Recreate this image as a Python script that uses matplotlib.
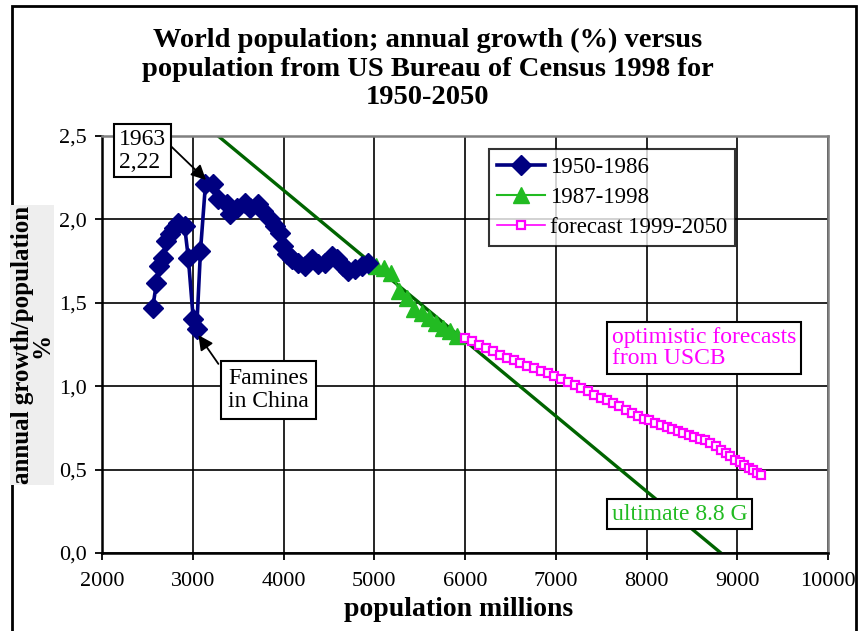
"""
World population: annual growth (%) versus population, USCB 1998, 1950-2050.
Values read off the reference chart.
"""
import matplotlib
matplotlib.use("Agg")
import matplotlib.pyplot as plt
from matplotlib.patches import Rectangle

plt.rcParams["font.family"] = ["Liberation Serif", "DejaVu Serif"]

W, H = 860, 631

# 1950-1986 (population millions, growth %)
pop_hist = [2559, 2600, 2632, 2676, 2700, 2749, 2790, 2840, 2910, 2951,
            3006, 3043, 3085, 3140, 3227, 3282, 3374, 3410, 3484, 3576,
            3631, 3723, 3778, 3851, 3906, 3961, 3998, 4035, 4090, 4163,
            4237, 4310, 4384, 4457, 4531, 4586, 4659, 4714, 4788, 4861, 4935]
gr_hist = [1.47, 1.62, 1.72, 1.77, 1.87, 1.91, 1.95, 1.98, 1.96, 1.77,
           1.40, 1.34, 1.81, 2.21, 2.21, 2.12, 2.09, 2.03, 2.07, 2.10,
           2.07, 2.09, 2.05, 2.00, 1.96, 1.92, 1.84, 1.79, 1.76, 1.74,
           1.72, 1.76, 1.73, 1.74, 1.78, 1.76, 1.72, 1.69, 1.70, 1.72, 1.74]

# 1987-1998
pop_recent = [5018, 5105, 5190, 5277, 5359, 5441, 5521, 5600, 5679, 5758, 5836, 5914]
gr_recent = [1.72, 1.71, 1.68, 1.57, 1.53, 1.46, 1.44, 1.41, 1.38, 1.35, 1.33, 1.30]

# forecast 1999-2050
pop_fc = [6000, 6077, 6154, 6231, 6308, 6384, 6460, 6536, 6611, 6686,
          6761, 6836, 6911, 6986, 7060, 7134, 7207, 7280, 7352, 7423,
          7494, 7564, 7633, 7702, 7770, 7837, 7903, 7968, 8032, 8096,
          8159, 8222, 8284, 8346, 8407, 8468, 8528, 8587, 8646, 8704,
          8761, 8817, 8872, 8925, 8977, 9027, 9076, 9124, 9171, 9217, 9261]
gr_fc = [1.29, 1.27, 1.25, 1.23, 1.21, 1.19, 1.17, 1.155, 1.14, 1.12,
         1.11, 1.09, 1.08, 1.06, 1.045, 1.025, 1.01, 0.99, 0.97, 0.95,
         0.93, 0.915, 0.90, 0.88, 0.86, 0.84, 0.82, 0.805, 0.795, 0.78,
         0.77, 0.755, 0.745, 0.73, 0.72, 0.705, 0.695, 0.685, 0.675, 0.66,
         0.64, 0.62, 0.60, 0.58, 0.56, 0.545, 0.53, 0.51, 0.50, 0.48, 0.465]

# linear trend towards the ultimate population
trend_pop = [3280, 8820]
trend_gr = [2.5, 0.0]

x_ticks = [2000, 3000, 4000, 5000, 6000, 7000, 8000, 9000, 10000]
y_ticks = [0.0, 0.5, 1.0, 1.5, 2.0, 2.5]
y_labels = ["0,0", "0,5", "1,0", "1,5", "2,0", "2,5"]

NAVY = "#000080"
GREEN = "#22BB22"
DKGREEN = "#006400"
MAGENTA = "#FF00FF"


def fx(px):
    return px / W


def fy(py):
    return 1 - py / H


def main():
    fig = plt.figure(figsize=(8.6, 6.31), dpi=100)
    ax = fig.add_axes([fx(102), fy(553), fx(828) - fx(102), fy(136) - fy(553)])

    ax.plot(trend_pop, trend_gr, color=DKGREEN, lw=2.4, zorder=2)
    ax.plot(pop_hist, gr_hist, color=NAVY, lw=2.6, marker="D", ms=10,
            label="1950-1986", zorder=4)
    ax.plot(pop_recent, gr_recent, color=GREEN, lw=1.5, marker="^", ms=11,
            mec=GREEN, label="1987-1998", zorder=3)
    ax.plot(pop_fc, gr_fc, color=MAGENTA, lw=1.2, marker="s", ms=6, mfc="white",
            mec=MAGENTA, mew=1.6, label="forecast 1999-2050", zorder=3)

    ax.set_xlim(2000, 10000)
    ax.set_ylim(0, 2.5)
    ax.set_xticks(x_ticks)
    ax.set_xticklabels([str(v) for v in x_ticks])
    ax.set_yticks(y_ticks)
    ax.set_yticklabels(y_labels)
    ax.tick_params(labelsize=16, length=5, width=1.3, direction="out", colors="black")
    ax.tick_params(axis="x", pad=9)
    ax.tick_params(axis="y", pad=6)
    ax.grid(True, color="black", lw=1.2)
    ax.set_axisbelow(True)
    for s in ("left", "bottom"):
        ax.spines[s].set_linewidth(1.8)
    for s in ("top", "right"):
        ax.spines[s].set_color("#808080")
        ax.spines[s].set_linewidth(1.8)

    leg = ax.legend(loc="upper left", bbox_to_anchor=(fx(489), fy(149)),
                    bbox_transform=fig.transFigure, fontsize=16.5, frameon=True,
                    fancybox=False, edgecolor="black", borderaxespad=0,
                    handlelength=2.1, handletextpad=0.2, labelspacing=0.4,
                    borderpad=0.35)
    leg.get_frame().set_linewidth(1.5)

    # arrows
    ax.annotate("", xy=(3168, 2.225), xytext=(2700, 2.47),
                arrowprops=dict(arrowstyle="-|>", color="black", lw=1.3,
                                mutation_scale=22), zorder=6)
    ax.annotate("", xy=(3045, 1.32), xytext=(3300, 1.12),
                arrowprops=dict(arrowstyle="-|>", color="black", lw=1.3,
                                mutation_scale=22), zorder=6)

    box = dict(boxstyle="square,pad=0.2", fc="white", ec="black", lw=1.5)
    fig.text(fx(119), fy(129), "1963\n2,22", fontsize=17, ha="left", va="top",
             linespacing=1.1, bbox=box, zorder=7)
    fig.text(fx(228), fy(368), "Famines\nin China", fontsize=17, ha="left", va="top",
             linespacing=1.1, bbox=dict(boxstyle="square,pad=0.3", fc="white",
                                        ec="black", lw=1.5), zorder=7)
    fig.text(fx(612), fy(327), "optimistic forecasts\nfrom USCB", fontsize=17,
             color=MAGENTA, ha="left", va="top", linespacing=1.0, bbox=box, zorder=7)
    fig.text(fx(612), fy(514), "ultimate 8.8 G", fontsize=17, color=GREEN,
             ha="left", va="center", bbox=box, zorder=7)

    fig.text(fx(428), fy(69), "World population; annual growth (%) versus\n"
             "population from US Bureau of Census 1998 for\n1950-2050",
             ha="center", va="center", multialignment="center", fontsize=20.5,
             fontweight="bold", linespacing=1.2)
    fig.text(fx(459), fy(610), "population millions", ha="center", va="center",
             fontsize=20, fontweight="bold")
    fig.text(fx(32), fy(345), "annual growth/population\n%", ha="center", va="center",
             rotation=90, fontsize=18, fontweight="bold", linespacing=0.8,
             bbox=dict(boxstyle="square,pad=0.02", fc="#eeeeee", ec="none"))

    # outer chart frame
    fig.patches.append(Rectangle((fx(12), -0.05), fx(856) - fx(12), fy(6) + 0.05,
                                 transform=fig.transFigure, fill=False,
                                 ec="black", lw=2))

    fig.savefig("out.png", dpi=100)
    plt.close(fig)


if __name__ == "__main__":
    main()
